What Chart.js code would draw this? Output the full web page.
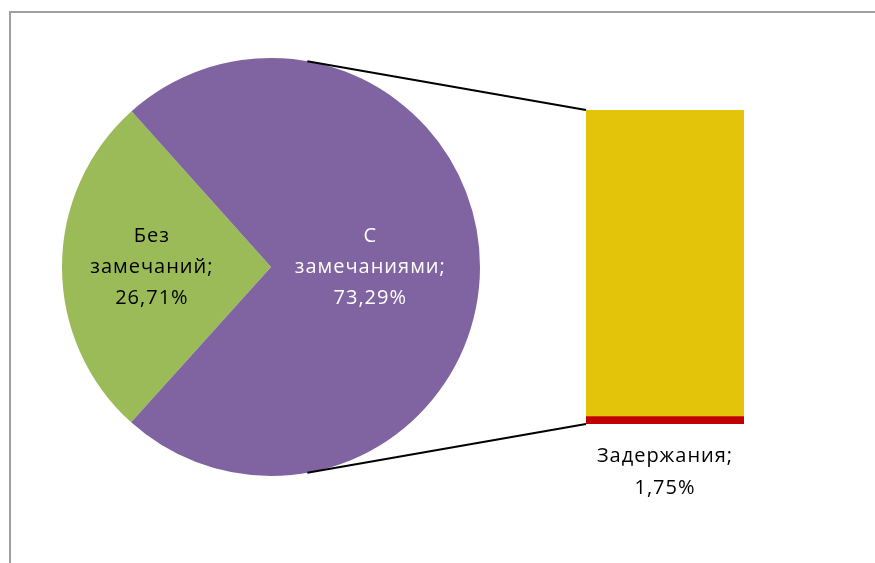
<!DOCTYPE html>
<html>
<head>
<meta charset="utf-8">
<script src="https://cdn.jsdelivr.net/npm/chart.js@4.4.1/dist/chart.umd.min.js"></script>
<style>
  html, body { margin: 0; padding: 0; background: #fff; }
  #wrap { position: relative; width: 875px; height: 563px; overflow: hidden; }
  #frame { position: absolute; left: 9px; top: 11px; width: 900px; height: 600px; border: 2px solid #a0a0a0; }
  canvas { position: absolute; left: 0; top: 0; }
</style>
</head>
<body>
<div id="wrap">
  <div id="frame"></div>
  <canvas id="pieChart" width="875" height="563"></canvas>
  <canvas id="barChart" width="875" height="563"></canvas>
</div>
<script>
// pie part
const pieLabels = ['Без замечаний', 'С замечаниями'];
const pieValues = [26.71, 73.29];
const pieText = ['26,71%', '73,29%'];

// bar part (breakdown of "С замечаниями")
const barLabels = ['Задержания', 'Прочие'];
const barValues = [1.75, 71.54];
const barText = ['1,75%', ''];

const FONT = '20px "Open Sans"';

// labels inside the slices
const pieLabelPlugin = {
    id: 'pieLabels',
    afterDatasetsDraw(chart) {
        const ctx = chart.ctx;
        const arcs = chart.getDatasetMeta(0).data;
        const factors = [0.57, 0.475];
        const colors = ['#000000', '#ffffff'];
        ctx.save();
        ctx.font = FONT;
        ctx.letterSpacing = '1px';
        ctx.textAlign = 'center';
        ctx.textBaseline = 'middle';
        arcs.forEach((arc, i) => {
            const mid = (arc.startAngle + arc.endAngle) / 2;
            const r = arc.outerRadius * factors[i];
            const x = arc.x + Math.cos(mid) * r;
            const y = arc.y + Math.sin(mid) * r;
            const words = pieLabels[i].split(' ');
            const lines = [words[0], words.slice(1).join(' ') + ';', pieText[i]];
            ctx.fillStyle = colors[i];
            lines.forEach((line, k) => {
                ctx.fillText(line, x, y + (k - 1) * 31);
            });
        });
        ctx.restore();
    }
};

const pieChart = new Chart(document.getElementById('pieChart').getContext('2d'), {
    type: 'pie',
    data: {
        labels: pieLabels,
        datasets: [{
            data: pieValues,
            backgroundColor: ['#9bbb59', '#8064a2'],
            borderWidth: 0
        }]
    },
    options: {
        responsive: false,
        animation: false,
        rotation: 222,
        layout: { padding: { left: 62, right: 395, top: 58, bottom: 87 } },
        plugins: {
            legend: { display: false },
            tooltip: { enabled: false }
        }
    },
    plugins: [pieLabelPlugin]
});

// connector lines and label under the bar
const barExtrasPlugin = {
    id: 'barExtras',
    afterDatasetsDraw(chart) {
        const ctx = chart.ctx;
        const red = chart.getDatasetMeta(0).data[0];
        const yellow = chart.getDatasetMeta(1).data[0];
        const arc = pieChart.getDatasetMeta(0).data[1];
        const left = red.x - red.width / 2;
        const a1 = -80 * Math.PI / 180;
        const a2 = 80 * Math.PI / 180;

        ctx.save();
        ctx.strokeStyle = '#000';
        ctx.lineWidth = 2;
        ctx.beginPath();
        ctx.moveTo(arc.x + Math.cos(a1) * arc.outerRadius, arc.y + Math.sin(a1) * arc.outerRadius);
        ctx.lineTo(left, yellow.y);
        ctx.moveTo(arc.x + Math.cos(a2) * arc.outerRadius, arc.y + Math.sin(a2) * arc.outerRadius);
        ctx.lineTo(left, red.base);
        ctx.stroke();

        ctx.font = FONT;
        ctx.letterSpacing = '1px';
        ctx.fillStyle = '#000';
        ctx.textAlign = 'center';
        ctx.textBaseline = 'middle';
        ctx.fillText(barLabels[0] + ';', red.x, red.base + 32);
        ctx.fillText(barText[0], red.x, red.base + 64);
        ctx.restore();
    }
};

new Chart(document.getElementById('barChart').getContext('2d'), {
    type: 'bar',
    data: {
        labels: [''],
        datasets: [
            { label: barLabels[0], data: [barValues[0]], backgroundColor: '#c00000' },
            { label: barLabels[1], data: [barValues[1]], backgroundColor: '#e4c40b' }
        ]
    },
    options: {
        responsive: false,
        animation: false,
        layout: { padding: { left: 586, right: 131, top: 110, bottom: 139 } },
        datasets: { bar: { barPercentage: 1, categoryPercentage: 1, borderWidth: 0 } },
        scales: {
            x: { stacked: true, display: false },
            y: { stacked: true, display: false, min: 0, max: barValues[0] + barValues[1] }
        },
        plugins: {
            legend: { display: false },
            tooltip: { enabled: false }
        }
    },
    plugins: [barExtrasPlugin]
});
</script>
</body>
</html>
